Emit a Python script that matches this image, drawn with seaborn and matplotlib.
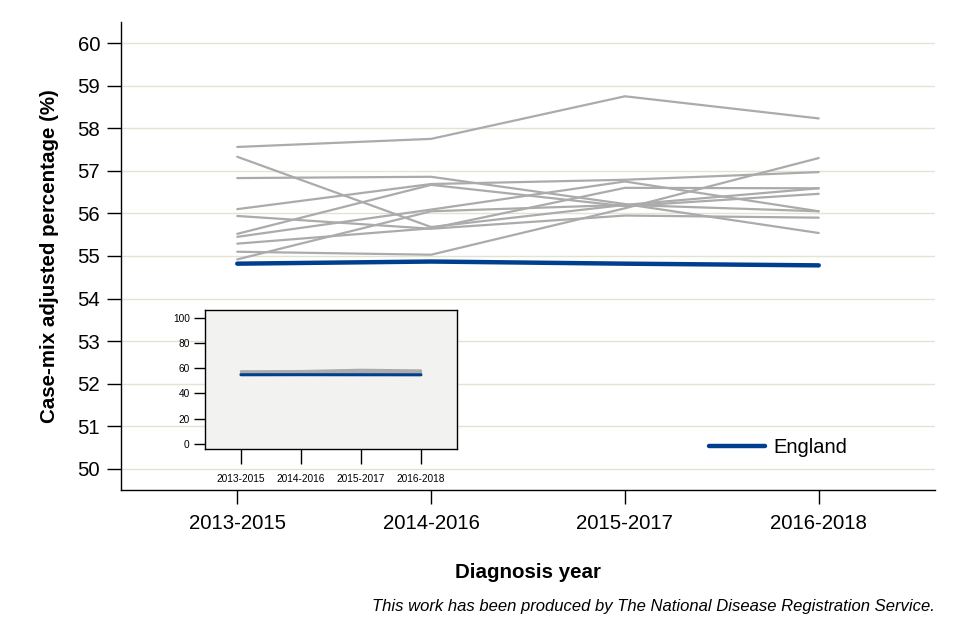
import numpy as np
import pandas as pd
import matplotlib
matplotlib.use("Agg")
import matplotlib.pyplot as plt
import seaborn as sns

# ----------------------------------------------------------
# data
# ----------------------------------------------------------

years = ["2013-2015", "2014-2016", "2015-2017", "2016-2018"]

england = [54.82, 54.87, 54.82, 54.78]

area_1 = [57.56, 57.75, 58.75, 58.23]
area_2 = [57.33, 55.68, 56.20, 56.05]
area_3 = [56.83, 56.86, 56.22, 55.54]
area_4 = [56.10, 56.69, 56.79, 56.97]
area_5 = [55.94, 55.64, 55.95, 55.90]
area_6 = [55.52, 56.67, 56.17, 56.46]
area_7 = [55.45, 56.09, 56.75, 56.05]
area_8 = [55.29, 55.65, 56.60, 56.59]
area_9 = [55.10, 55.03, 56.12, 57.30]
area_10 = [54.92, 56.05, 56.20, 56.59]

areas = [area_1, area_2, area_3, area_4, area_5,
         area_6, area_7, area_8, area_9, area_10]

rows = []
for i, vals in enumerate(areas):
    for yr, v in zip(years, vals):
        rows.append({"area": f"Area {i + 1}", "year": yr, "value": v})
df = pd.DataFrame(rows)

df_eng = pd.DataFrame({"year": years, "value": england})

GREY = "#ababab"
BLUE = "#003f8f"
GRID = "#e3e3d3"

sns.set_style("white")
plt.rcParams["font.family"] = ["Liberation Sans", "DejaVu Sans"]
plt.rcParams["text.color"] = "black"
plt.rcParams["axes.labelcolor"] = "black"
plt.rcParams["xtick.color"] = "black"
plt.rcParams["ytick.color"] = "black"

fig = plt.figure(figsize=(9.6, 6.4), dpi=100)
ax = fig.add_axes([0.126, 0.234, 0.848, 0.732])

# ----------------------------------------------------------
# main chart
# ----------------------------------------------------------

sns.lineplot(data=df, x="year", y="value", hue="area",
             palette=[GREY] * len(areas), linewidth=1.6,
             legend=False, ax=ax, sort=False)
sns.lineplot(data=df_eng, x="year", y="value", color=BLUE,
             linewidth=3.2, label="England", ax=ax, sort=False)

ax.set_xlim(-0.6, 3.6)
ax.set_ylim(49.5, 60.5)
ax.set_yticks(range(50, 61))
ax.yaxis.grid(True, color=GRID, linewidth=1)
ax.set_axisbelow(True)

for s in ["top", "right"]:
    ax.spines[s].set_visible(False)
for s in ["left", "bottom"]:
    ax.spines[s].set_color("black")
    ax.spines[s].set_linewidth(1)

ax.tick_params(axis="y", direction="out", length=10, width=1,
               labelsize=14.7, pad=5, left=True)
ax.tick_params(axis="x", direction="out", length=10, width=1,
               labelsize=14.7, pad=7, bottom=True)

ax.set_ylabel("Case-mix adjusted percentage (%)", fontsize=14.8,
              fontweight="bold", labelpad=13)
ax.set_xlabel("Diagnosis year", fontsize=14.8, fontweight="bold",
              labelpad=22)

leg = ax.legend(loc="lower left", bbox_to_anchor=(0.70, 0.033),
                frameon=False, fontsize=14.5, handlelength=2.8,
                handletextpad=0.4)

fig.text(0.974, 0.052,
         "This work has been produced by The National Disease Registration Service.",
         ha="right", va="center", fontsize=12, style="italic")

# ----------------------------------------------------------
# inset with full 0-100 scale
# ----------------------------------------------------------

ins = fig.add_axes([0.2135, 0.2984, 0.2625, 0.217])
ins.set_facecolor("#f2f3f0")
sns.lineplot(data=df, x="year", y="value", hue="area",
             palette=[GREY] * len(areas), linewidth=1.6,
             legend=False, ax=ins, sort=False)
sns.lineplot(data=df_eng, x="year", y="value", color=BLUE,
             linewidth=2.2, legend=False, ax=ins, sort=False)
ins.set_xlim(-0.6, 3.6)
ins.set_ylim(-4, 106)
ins.set_yticks([0, 20, 40, 60, 80, 100])
ins.set_xlabel("")
ins.set_ylabel("")
for s in ins.spines.values():
    s.set_color("black")
    s.set_linewidth(1)
ins.tick_params(axis="y", direction="out", length=8, width=1,
                labelsize=7.3, pad=3, left=True)
ins.tick_params(axis="x", direction="out", length=11, width=1,
                labelsize=7.3, pad=7, bottom=True)

fig.savefig("out.png", dpi=100)
